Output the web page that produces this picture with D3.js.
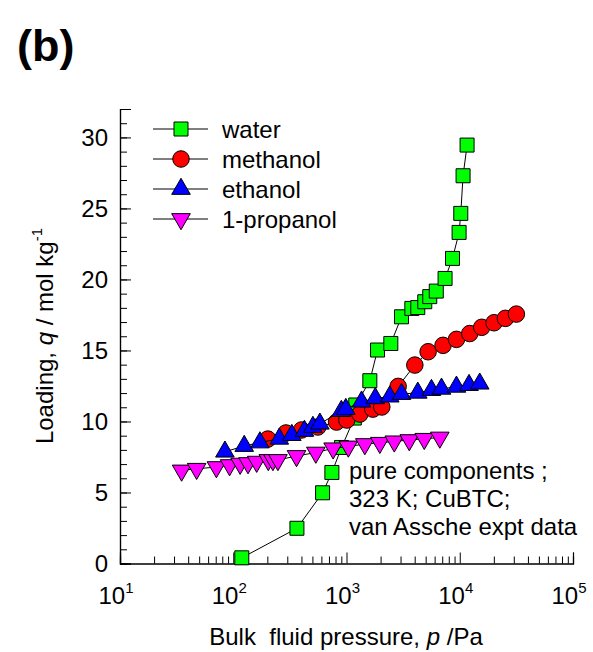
<!DOCTYPE html>
<html><head><meta charset="utf-8">
<script src="https://cdn.jsdelivr.net/npm/d3@7"></script>
<style>
html,body{margin:0;padding:0;background:#fff;}
text{font-family:"Liberation Sans",Arial,sans-serif;fill:#000;}
</style></head>
<body>
<svg id="chart" width="593" height="652"></svg>
<script>
// ---- data ----
const seriesNames = ["water", "methanol", "ethanol", "1-propanol"];
const waterP = [119, 365, 615, 743, 904, 1172, 1208, 1607, 1879, 2462, 3060, 3775, 4260, 4910, 5434, 6205, 7420, 8630, 9870, 10210, 10700, 11610];
const waterQ = [0.4, 2.48, 4.98, 6.41, 8.17, 10.24, 11.16, 12.87, 15.03, 15.49, 17.37, 17.96, 18.02, 18.43, 18.79, 19.18, 20.07, 21.48, 23.31, 24.65, 27.30, 29.46];
const methanolP = [202, 292, 401, 558, 817, 1007, 1312, 1708, 2050, 2858, 4012, 5255, 7121, 9352, 12250, 15630, 20080, 25300, 31620];
const methanolQ = [8.76, 9.19, 9.40, 9.61, 9.96, 10.10, 10.52, 10.87, 11.02, 12.47, 13.97, 14.91, 15.36, 15.78, 16.19, 16.63, 16.95, 17.26, 17.56];
const ethanolP = [84.4, 125, 172, 255, 329, 425, 505, 582, 900, 986, 1358, 1796, 2411, 3060, 4260, 5624, 6900, 9352, 12080, 15010];
const ethanolQ = [7.87, 8.27, 8.52, 8.78, 9.04, 9.33, 9.61, 9.84, 10.73, 10.87, 11.39, 11.63, 11.75, 11.93, 12.02, 12.21, 12.30, 12.44, 12.56, 12.66];
const propanolP = [35.0, 47.5, 71, 92.8, 115, 135, 161, 204, 224, 248, 362, 536, 762, 1038, 1452, 1969, 2642, 3584, 4862, 6668];
const propanolQ = [6.55, 6.67, 6.79, 6.93, 7.03, 7.07, 7.17, 7.29, 7.29, 7.29, 7.57, 7.81, 8.11, 8.24, 8.41, 8.50, 8.60, 8.69, 8.78, 8.87];
const xTickExps = [1, 2, 3, 4, 5];
const yTicks = [0, 5, 10, 15, 20, 25, 30];
const annotationLines = ["pure components ;", "323 K; CuBTC;", "van Assche expt data"];

// ---- layout ----
const FS = 24;
const svg = d3.select("#chart");
const x = d3.scaleLog().domain([10, 1e5]).range([120, 573]);
const y = d3.scaleLinear().domain([0, 32]).range([563.5, 109]);

// axes
const minorX = [];
for (let e = 1; e < 5; e++) for (let m = 2; m <= 9; m++) minorX.push(m * Math.pow(10, e));
const gx = svg.append("g").attr("transform", "translate(0," + y(0) + ")");
gx.call(d3.axisBottom(x).tickValues(minorX).tickSize(-7).tickFormat(""));
gx.append("g").call(d3.axisBottom(x).tickValues(xTickExps.map(e => Math.pow(10, e))).tickSize(-11).tickFormat(""));
gx.selectAll(".domain").attr("stroke", "#000").attr("stroke-width", 1.2);
gx.selectAll(".tick line").attr("stroke", "#000").attr("stroke-width", 1);

const gy = svg.append("g").attr("transform", "translate(" + x(10) + ",0)");
gy.call(d3.axisLeft(y).tickValues(d3.range(0, 33, 1)).tickSize(-7).tickFormat(""));
gy.append("g").call(d3.axisLeft(y).tickValues(yTicks).tickSize(-11).tickFormat(""));
gy.selectAll(".domain").attr("stroke", "#000").attr("stroke-width", 1.2);
gy.selectAll(".tick line").attr("stroke", "#000").attr("stroke-width", 1);

// tick labels
svg.append("g").selectAll("text").data(yTicks).join("text")
  .attr("x", 108).attr("y", d => y(d) + 8.5)
  .attr("text-anchor", "end").attr("font-size", FS).text(d => d);

const xl = svg.append("g").selectAll("text").data(xTickExps).join("text")
  .attr("x", d => x(Math.pow(10, d)) - 4).attr("y", 604)
  .attr("text-anchor", "middle").attr("font-size", FS);
xl.append("tspan").text("10");
xl.append("tspan").attr("font-size", 15).attr("dy", -11).text(d => d);

// axis titles
const xt = svg.append("text").attr("x", 346).attr("y", 645).attr("text-anchor", "middle").attr("font-size", FS);
xt.append("tspan").text("Bulk\u00a0\u00a0fluid pressure, ");
xt.append("tspan").attr("font-style", "italic").text("p");
xt.append("tspan").text(" /Pa");

const yt = svg.append("text").attr("transform", "translate(53,336) rotate(-90)").attr("text-anchor", "middle").attr("font-size", FS);
yt.append("tspan").text("Loading, ");
yt.append("tspan").attr("font-style", "italic").text("q");
yt.append("tspan").text(" / mol kg");
yt.append("tspan").attr("font-size", 15).attr("dy", -11).text("-1");

// panel label
svg.append("text").attr("x", 17).attr("y", 61).attr("font-size", 45).attr("font-weight", "bold").text("(b)");

// series
const series = [
  {name: seriesNames[0], P: waterP, Q: waterQ, fill: "#00ff00", sym: d3.symbolSquare, size: 196, rot: 0},
  {name: seriesNames[1], P: methanolP, Q: methanolQ, fill: "#ff0000", sym: d3.symbolCircle, size: 215, rot: 0},
  {name: seriesNames[2], P: ethanolP, Q: ethanolQ, fill: "#0000ff", sym: d3.symbolTriangle, size: 150, rot: 0},
  {name: seriesNames[3], P: propanolP, Q: propanolQ, fill: "#ff00ff", sym: d3.symbolTriangle, size: 150, rot: 180}
];
const line = d3.line().x(d => x(d[0])).y(d => y(d[1]));
series.forEach(s => {
  const pts = s.P.map((p, i) => [p, s.Q[i]]);
  svg.append("path").datum(pts).attr("d", line).attr("fill", "none").attr("stroke", "#000").attr("stroke-width", 1);
  svg.append("g").selectAll("path").data(pts).join("path")
    .attr("d", d3.symbol().type(s.sym).size(s.size))
    .attr("transform", d => "translate(" + x(d[0]) + "," + y(d[1]) + ") rotate(" + s.rot + ")")
    .attr("fill", s.fill).attr("stroke", "#000").attr("stroke-width", 1);
});

// legend
const lg = svg.append("g");
series.forEach((s, i) => {
  const cy = 129 + i * 30;
  lg.append("line").attr("x1", 153).attr("x2", 208).attr("y1", cy).attr("y2", cy).attr("stroke", "#000").attr("stroke-width", 1);
  lg.append("path").attr("d", d3.symbol().type(s.sym).size(s.size))
    .attr("transform", "translate(181," + cy + ") rotate(" + s.rot + ")")
    .attr("fill", s.fill).attr("stroke", "#000");
  lg.append("text").attr("x", 222).attr("y", cy + 8.5).attr("font-size", FS).text(s.name);
});

// annotation
svg.append("g").selectAll("text").data(annotationLines).join("text")
  .attr("x", 349).attr("y", (d, i) => 479 + i * 28)
  .attr("font-size", FS).text(d => d);
</script>
</body></html>
